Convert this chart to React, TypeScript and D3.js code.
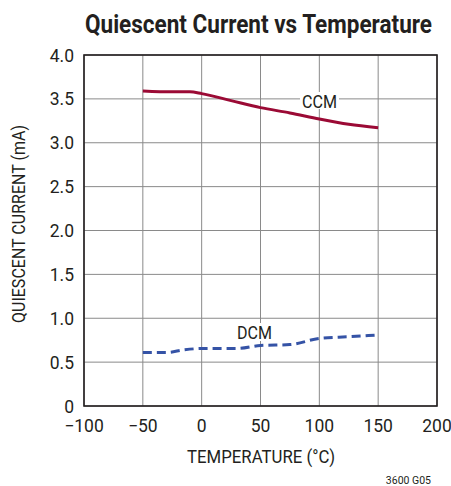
import React from "react";
import * as d3 from "d3";

const ccmTemp = [-50, -25, -10, 0, 25, 50, 75, 100, 125, 150];
const ccmCurrent = [3.59, 3.58, 3.58, 3.56, 3.48, 3.4, 3.34, 3.27, 3.21, 3.17];
const dcmTemp = [-50, -30, -15, 0, 30, 50, 75, 100, 125, 150];
const dcmCurrent = [0.61, 0.61, 0.64, 0.655, 0.655, 0.69, 0.7, 0.77, 0.79, 0.81];
const xTicks = [-100, -50, 0, 50, 100, 150, 200];
const yTicks = [0, 0.5, 1.0, 1.5, 2.0, 2.5, 3.0, 3.5, 4.0];
const xTickLabels = ["\u2212100", "\u221250", "0", "50", "100", "150", "200"];
const yTickLabels = ["0", "0.5", "1.0", "1.5", "2.0", "2.5", "3.0", "3.5", "4.0"];

const FONT = "Roboto, 'Liberation Sans', Arial, sans-serif";

export default function App() {
  const W = 451, H = 486;
  const left = 84, right = 437, top = 55, bottom = 406;
  const x = d3.scaleLinear().domain([-100, 200]).range([left, right]);
  const y = d3.scaleLinear().domain([0, 4]).range([bottom, top]);
  const line = d3.line<[number, number]>().x(d => x(d[0])).y(d => y(d[1])).curve(d3.curveMonotoneX);
  const ccm = line(ccmTemp.map((t, i) => [t, ccmCurrent[i]]));
  const dcm = line(dcmTemp.map((t, i) => [t, dcmCurrent[i]]));

  return (
    <svg width={W} height={H} style={{ position: "absolute", left: 0, top: 0, background: "#fff" }}>
      <rect x={0} y={0} width={W} height={H} fill="#fff" />
      <text x={85} y={33} textLength={347} lengthAdjust="spacingAndGlyphs" fontFamily={FONT} fontWeight="bold" fontSize={25} fill="#231f20">
        Quiescent Current vs Temperature
      </text>
      {xTicks.map(t => (
        <line key={"gx" + t} x1={x(t)} x2={x(t)} y1={top} y2={bottom} stroke="#8a8a8a" strokeWidth={1} />
      ))}
      {yTicks.map(t => (
        <line key={"gy" + t} x1={left} x2={right} y1={y(t)} y2={y(t)} stroke="#8a8a8a" strokeWidth={1} />
      ))}
      <rect x={300} y={92} width={39} height={17} fill="#fff" />
      <rect x={235} y={323} width={39} height={18} fill="#fff" />
      <rect x={left} y={top} width={right - left} height={bottom - top} fill="none" stroke="#231f20" strokeWidth={1.6} />
      <path d={ccm || ""} fill="none" stroke="#9b0a35" strokeWidth={3} />
      <path d={dcm || ""} fill="none" stroke="#3553a6" strokeWidth={3} strokeDasharray="9 5" />
      <text x={302} y={108} textLength={35} lengthAdjust="spacingAndGlyphs" fontFamily={FONT} fontSize={18.5} fill="#231f20">CCM</text>
      <text x={237} y={339} textLength={35} lengthAdjust="spacingAndGlyphs" fontFamily={FONT} fontSize={18.5} fill="#231f20">DCM</text>
      {yTicks.map((t, i) => (
        <text key={"ty" + t} x={74} y={y(t) + 6.5} textAnchor="end" fontFamily={FONT} fontSize={17.5} fill="#231f20">
          {yTickLabels[i]}
        </text>
      ))}
      {xTicks.map((t, i) => (
        <text key={"tx" + t} x={x(t)} y={432} textAnchor="middle" fontFamily={FONT} fontSize={17.5} fill="#231f20">
          {xTickLabels[i]}
        </text>
      ))}
      <text x={187} y={463} textLength={148} lengthAdjust="spacingAndGlyphs" fontFamily={FONT} fontSize={18.5} fill="#231f20">
        TEMPERATURE (°C)
      </text>
      <text transform={`translate(25,323) rotate(-90)`} textLength={198} lengthAdjust="spacingAndGlyphs" fontFamily={FONT} fontSize={18} fill="#231f20">
        QUIESCENT CURRENT (mA)
      </text>
      <text x={431} y={484} textAnchor="end" fontFamily={FONT} fontSize={10.5} fill="#231f20">3600 G05</text>
    </svg>
  );
}
